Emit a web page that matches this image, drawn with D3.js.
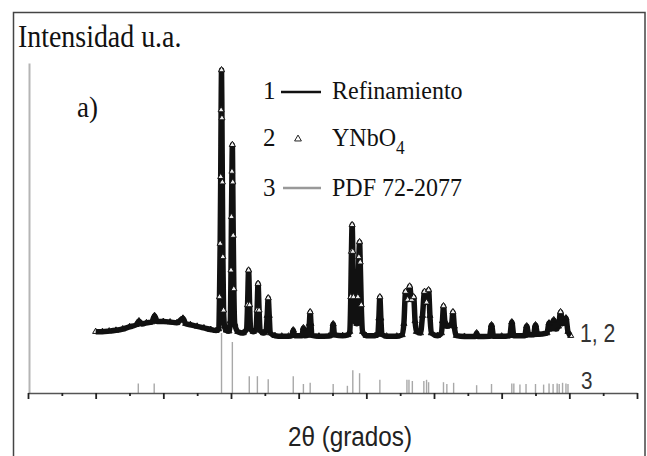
<!DOCTYPE html>
<html><head><meta charset="utf-8">
<script src="https://cdn.jsdelivr.net/npm/d3@7"></script>
<style>html,body{margin:0;padding:0;background:#fff;}svg{display:block;}</style>
</head><body>
<svg id="chart" width="647" height="456"></svg>
<script>
// ---- DATA ----
// Refined / observed XRD pattern: [2theta (deg), relative intensity]
const patternTheta = [10.0,11,12,13,14,15,16,16.4,16.8,17.5,18.3,18.7,19.1,20,21,22,22.9,23.3,24,25,26,27,27.8,
 28.2,28.3,28.4,28.48,28.54,28.6,28.66,28.72,28.8,28.9,29.05,29.3,29.7,
 29.9,30.0,30.07,30.14,30.2,30.26,30.33,30.42,30.55,31,31.8,
 32.3,32.45,32.6,32.75,32.9,33.3,
 33.7,33.85,34.0,34.15,34.3,34.8,
 35.2,35.35,35.5,35.65,35.8,36.5,37.5,38.5,
 39.0,39.2,39.4,40.5,40.7,40.9,
 41.45,41.58,41.7,41.82,41.95,43,44.5,44.9,45.1,45.3,46.5,47.3,
 47.55,47.7,47.8,47.9,48.0,48.1,48.3,
 48.6,48.75,48.9,49.0,49.1,49.25,49.45,50,51.3,
 51.7,51.85,52.0,52.15,52.3,53,54.5,55.3,
 55.55,55.8,56.1,56.4,56.7,57.0,57.2,57.4,
 58.0,58.3,58.6,58.9,59.2,59.4,59.6,60.5,61.1,
 61.25,61.4,61.6,61.9,62.6,62.8,63.0,63.3,
 64.5,66.1,66.3,66.5,68.2,68.5,68.8,70,71.2,71.5,71.8,73.4,73.7,74.0,74.7,75.0,75.3,
 76.7,77.0,77.3,77.7,78.0,78.4,78.7,79.0,79.5,79.8,80.2];
const patternIntensity = [2.0,2.0,2.2,2.5,3.0,3.8,4.6,6.0,4.9,5.3,5.6,8.0,5.8,5.8,5.6,5.3,7.0,5.0,4.6,4.0,3.4,2.8,2.4,
 3,15,35,60,85,100,82,58,30,10,4,2.5,2.2,
 6,25,45,62,72,58,38,18,5,2,1.5,
 3,12,25,12,3,2,
 3,10,20,10,2.5,1.5,
 2.5,8,14.6,8,1.5,0.5,0.3,0.3,
 0.5,2.6,0.5,0.5,3.4,0.5,
 0.8,5,9.4,5,0.6,0.3,0.4,0.8,4.9,0.8,0.5,0.8,
 2,15,32,42,32,15,6,
 5,15,30,35.6,28,12,2,0.5,0.5,
 1,7,15,7,1,0.3,0.3,0.8,
 5,17,14,19,14,15,6,2,
 1.5,8,17,13,17.6,8,1.5,0.5,1.5,
 6,11.6,6,4,5,9.4,4,0.5,
 0.2,0.2,1.5,0.2,0.3,4.5,0.3,0.3,0.5,5.6,0.5,0.5,4.1,0.8,0.8,4.5,1,
 1.5,5.2,3,6.4,3,4,9.4,5,7.1,2,0.5];
// PDF 72-2077 reference lines
const pdfTheta = [16.3,18.65,28.6,30.2,32.7,33.9,35.5,39.2,40.7,41.7,45.1,47.2,48.0,49.0,52.0,
 56.0,56.3,56.8,58.5,58.9,59.2,61.4,61.9,62.9,66.3,68.5,71.5,71.8,72.7,73.6,75.0,76.2,77.0,77.6,78.2,78.5,79.0,79.5,79.8];
const pdfIntensity = [16,16,100,85,28,28,23,28,15,17,15,12,38,33,22,
 22,22,20,20,22,18,18,15,17,13,15,16,16,14,15,15,14,16,15,16,15,17,16,15];
// Axis ticks (2theta)
const majorTicks = [0,10,20,30,40,50,60,70,80,90];
const minorTicks = [5,15,25,35,45,55,65,75,85];
const legendItems = [
  {num:"1", label:"Refinamiento"},
  {num:"2", label:"YNbO", sub:"4"},
  {num:"3", label:"PDF 72-2077"}
];

// ---- DRAW ----
const svg = d3.select("#chart");
const x = d3.scaleLinear().domain([0,90]).range([28,637]);
const yPat = d3.scaleLinear().domain([0,100]).range([337,70]);
const yPdf = d3.scaleLinear().domain([0,100]).range([393,333]);
const yAxisScale = d3.scaleLinear().domain([0,100]).range([393,63]);

function sx(sel, x0, k){ return sel.attr("transform",`translate(${x0},0) scale(${k},1) translate(${-x0},0)`); }

// outer frame
svg.append("rect").attr("x",13.5).attr("y",12.5).attr("width",631.5).attr("height",470)
  .attr("fill","none").attr("stroke","#444").attr("stroke-width",1.5);

// y axis (plain grey line)
const ya = svg.append("g").attr("transform","translate(29,0)")
  .call(d3.axisLeft(yAxisScale).tickValues([]).tickSizeOuter(0));
ya.select(".domain").attr("stroke","#b5b5b5").attr("stroke-width",2);

// PDF sticks
svg.append("g").selectAll("line").data(pdfTheta).join("line")
  .attr("x1",d=>x(d)).attr("x2",d=>x(d))
  .attr("y1",yPdf(0)).attr("y2",(d,i)=>yPdf(pdfIntensity[i]))
  .attr("stroke","#a8a8a8").attr("stroke-width",1.4);

// x axis
const xa = svg.append("g").attr("transform","translate(0,393)")
  .call(d3.axisBottom(x).tickValues(majorTicks).tickSize(6).tickSizeOuter(0).tickFormat(""));
xa.select(".domain").attr("stroke","#555").attr("stroke-width",1.5);
xa.selectAll(".tick line").attr("stroke","#222").attr("stroke-width",1.8);
const xm = svg.append("g").attr("transform","translate(0,393)")
  .call(d3.axisBottom(x).tickValues(minorTicks).tickSize(3).tickSizeOuter(0).tickFormat(""));
xm.select(".domain").remove();
xm.selectAll(".tick line").attr("stroke","#222").attr("stroke-width",1.8);

// pattern
const pts = patternTheta.map((t,i)=>[t,patternIntensity[i]]);
const line = d3.line().x(d=>x(d[0])).y(d=>yPat(d[1])).curve(d3.curveMonotoneX);
svg.append("path").datum(pts).attr("d",line).attr("fill","none")
  .attr("stroke","#111").attr("stroke-width",5.5).attr("stroke-linejoin","round");
const tri = d3.symbol().type(d3.symbolTriangle).size(16);
svg.append("g").selectAll("path").data(pts).join("path")
  .attr("d",tri).attr("transform",d=>`translate(${x(d[0])},${yPat(d[1])})`)
  .attr("fill",d=>d[1]>8?"#eee":"none").attr("stroke","#111").attr("stroke-width",1);

// titles
sx(svg.append("text").attr("x",18).attr("y",47),18,0.9)
  .attr("font-family","Liberation Serif").attr("font-size",31).attr("fill","#111").text("Intensidad u.a.");
sx(svg.append("text").attr("x",77).attr("y",117),77,0.9)
  .attr("font-family","Liberation Serif").attr("font-size",30).attr("fill","#111").text("a)");

// legend
const ly = [99,146,196];
const lg = svg.append("g");
legendItems.forEach((it,i)=>{
  lg.append("text").attr("x",263).attr("y",ly[i]).attr("font-family","Liberation Serif")
    .attr("font-size",25).attr("fill","#111").text(it.num);
  const t = sx(lg.append("text").attr("x",332).attr("y",ly[i]),332,0.96).attr("font-family","Liberation Serif")
    .attr("font-size",25).attr("fill","#111").text(it.label);
  if(it.sub) t.append("tspan").attr("dy",8).attr("font-size",18).text(it.sub);
});
lg.append("line").attr("x1",281).attr("x2",321).attr("y1",92).attr("y2",92).attr("stroke","#111").attr("stroke-width",2.5);
lg.append("path").attr("d",d3.symbol().type(d3.symbolTriangle).size(20)).attr("transform","translate(298,139)")
  .attr("fill","#fff").attr("stroke","#222").attr("stroke-width",1);
lg.append("line").attr("x1",283).attr("x2",321).attr("y1",188).attr("y2",188).attr("stroke","#999").attr("stroke-width",2.5);

// series labels
sx(svg.append("text").attr("x",580).attr("y",342),580,0.85).attr("font-family","Liberation Sans")
  .attr("font-size",25).attr("fill","#333").text("1, 2");
sx(svg.append("text").attr("x",581).attr("y",389),581,0.9).attr("font-family","Liberation Sans")
  .attr("font-size",23).attr("fill","#333").text("3");
sx(svg.append("text").attr("x",350).attr("y",446).attr("text-anchor","middle"),350,0.9).attr("font-family","Liberation Sans")
  .attr("font-size",27).attr("fill","#222").text("2θ (grados)");
</script>
</body></html>
